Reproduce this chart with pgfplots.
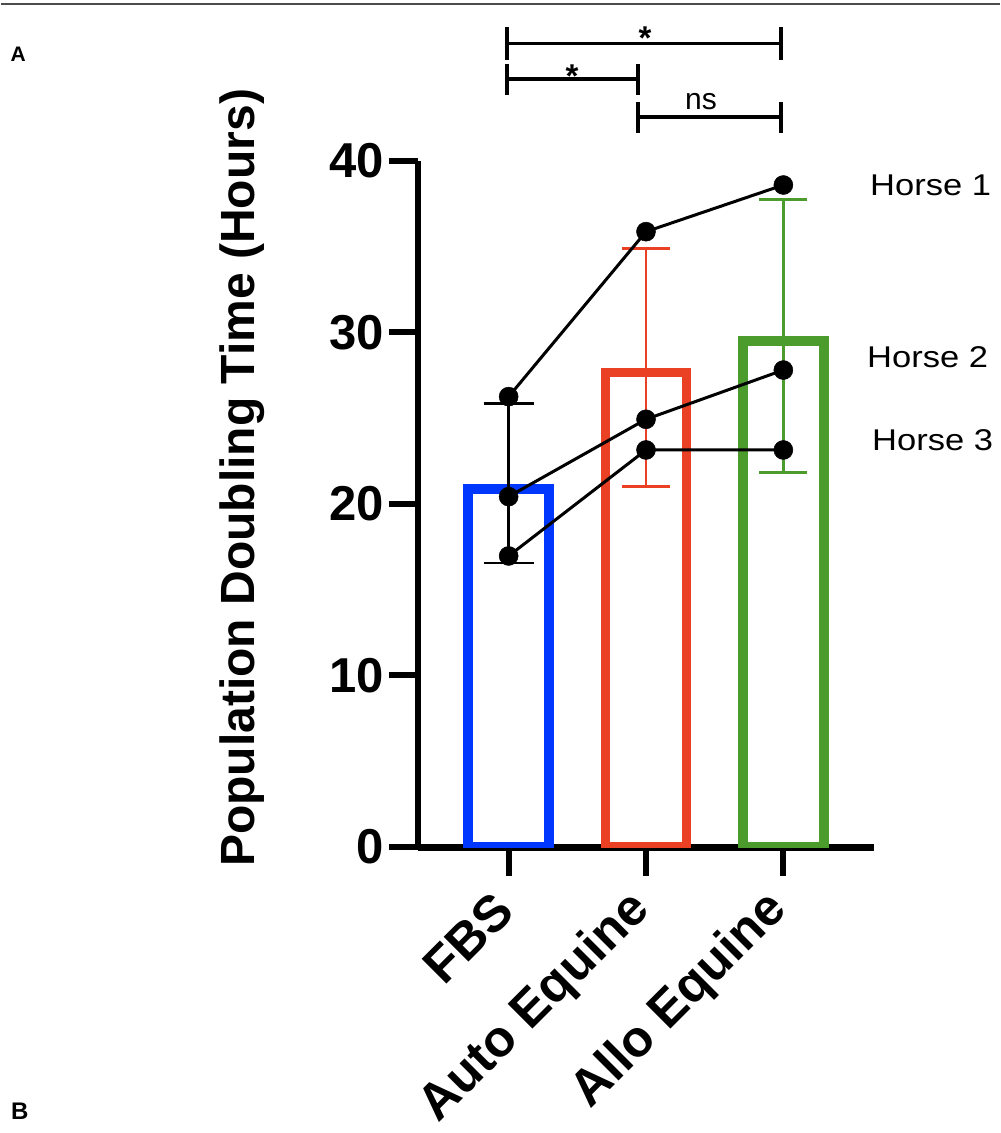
\documentclass[border=0pt]{standalone}
\usepackage{fontspec}
\setmainfont{Liberation Sans}
\newfontfamily\horsefont[FakeStretch=1.15]{Liberation Sans}
\usepackage{pgfplots}
\pgfplotsset{compat=1.18}
\definecolor{fbsblue}{RGB}{0,55,255}
\definecolor{autored}{RGB}{234,64,35}
\definecolor{allogreen}{RGB}{75,155,45}
\begin{document}
\begin{tikzpicture}[x=1pt,y=1pt]
\path (0,0) rectangle (999,1133);
\draw[line width=2pt, black!70] (0,1129) -- (999,1129);
\node[anchor=base west, inner sep=0pt, font=\bfseries\fontsize{21}{21}\selectfont] at (9.5,1071) {A};
\node[anchor=base west, inner sep=0pt, font=\bfseries\fontsize{24}{24}\selectfont] at (10,13) {B};
\begin{axis}[
  at={(417pt,286pt)}, anchor=south west,
  scale only axis, width=456pt, height=686pt,
  xmin=-0.66, xmax=2.66, ymin=0, ymax=40,
  separate axis lines,
  axis x line=bottom, axis y line=left,
  x axis line style={line width=7pt, -},
  y axis line style={line width=6pt, -},
  tick align=outside,
  major tick length=29pt,
  tick style={line width=6pt, black},
  ytick={0,10,20,30,40},
  xtick={0,1,2},
  xticklabels={FBS, Auto Equine, Allo Equine},
  /pgf/number format/assume math mode=true,
  yticklabel style={font=\bfseries\fontsize{49}{49}\selectfont, anchor=east, inner sep=0pt, xshift=-5pt},
  xticklabel style={font=\bfseries\fontsize{51}{51}\selectfont, xshift=-4pt, yshift=-26pt, rotate=45, anchor=east, inner sep=0pt},
  ylabel={Population Doubling Time (Hours)},
  every axis y label/.style={at={(axis description cs:-0.386,0.538)}, rotate=90, anchor=center, font=\bfseries\fontsize{48}{48}\selectfont},
]
% bars (outline, line centre at top)
\addplot[ybar, bar shift=0pt, bar width=81pt, draw=fbsblue, fill=none, line width=9.5pt, line join=miter] coordinates {(0,20.87)};
\addplot[ybar, bar shift=0pt, bar width=81pt, draw=autored, fill=none, line width=9.5pt, line join=miter] coordinates {(1,27.66)};
\addplot[ybar, bar shift=0pt, bar width=81pt, draw=allogreen, fill=none, line width=9.5pt, line join=miter] coordinates {(2,29.5)};
% error bars (mean +- SD)
\addplot[black, line width=2.7pt, mark=none, error bars/.cd, y dir=both, y explicit, error mark=|,
  error bar style={line width=2.7pt, black},
  error mark options={black, mark size=25pt, line width=2.7pt}] coordinates {(0,21.22) +- (0,4.66)};
\addplot[autored, line width=2.7pt, mark=none, error bars/.cd, y dir=both, y explicit, error mark=|,
  error bar style={line width=2.7pt, autored},
  error mark options={autored, mark size=24pt, line width=2.7pt}] coordinates {(1,27.95) +- (0,6.94)};
\addplot[allogreen, line width=2.7pt, mark=none, error bars/.cd, y dir=both, y explicit, error mark=|,
  error bar style={line width=2.7pt, allogreen},
  error mark options={allogreen, mark size=24pt, line width=2.7pt}] coordinates {(2,29.81) +- (0,7.96)};
% individual horses
\addplot[black, line width=3pt, mark=*, mark size=9.5pt, mark options={fill=black, line width=0.5pt}] coordinates {(0,26.26) (1,35.88) (2,38.6)};
\addplot[black, line width=3pt, mark=*, mark size=9.5pt, mark options={fill=black, line width=0.5pt}] coordinates {(0,20.43) (1,24.94) (2,27.81)};
\addplot[black, line width=3pt, mark=*, mark size=9.5pt, mark options={fill=black, line width=0.5pt}] coordinates {(0,16.97) (1,23.15) (2,23.15)};
\end{axis}
% significance brackets
\begin{scope}[line width=3.3pt]
\draw (506,1089.7) -- (780,1089.7);
\draw (506,1106) -- (506,1073);
\draw (780,1106) -- (780,1073);
\draw (506,1054) -- (637,1054);
\draw (506,1069) -- (506,1038);
\draw (637,1069) -- (637,1038);
\draw (637,1016) -- (780,1016);
\draw (637,1031) -- (637,1000);
\draw (780,1031) -- (780,1000);
\end{scope}
\node[anchor=base, inner sep=0pt, font=\bfseries\fontsize{33}{33}\selectfont] at (644,1083) {*};
\node[anchor=base, inner sep=0pt, font=\bfseries\fontsize{33}{33}\selectfont] at (571,1045) {*};
\node[anchor=base, inner sep=0pt, font=\fontsize{30}{30}\selectfont] at (700,1023) {ns};
% horse labels
\node[anchor=west, inner sep=0pt, font=\horsefont\fontsize{30}{30}\selectfont] at (869,948) {Horse 1};
\node[anchor=west, inner sep=0pt, font=\horsefont\fontsize{30}{30}\selectfont] at (866,776) {Horse 2};
\node[anchor=west, inner sep=0pt, font=\horsefont\fontsize{30}{30}\selectfont] at (871,693) {Horse 3};
\end{tikzpicture}
\end{document}
